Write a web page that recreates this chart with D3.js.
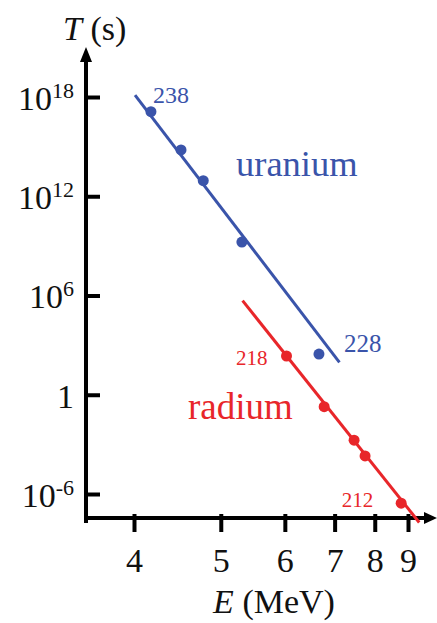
<!DOCTYPE html>
<html>
<head>
<meta charset="utf-8">
<script src="https://cdn.jsdelivr.net/npm/d3@7"></script>
<style>
  body { margin: 0; background: #fff; }
</style>
</head>
<body>
<script>
// Geiger-Nuttall style plot: log T against 1/sqrt(E)
const xTicks = [4, 5, 6, 7, 8, 9];
const yTicks = [1e18, 1e12, 1e6, 1, 1e-6];

// uranium series (blue)
const uraniumE = [4.17, 4.50, 4.77, 5.30, 6.66];
const uraniumT = [1.3e17, 6.3e14, 8.7e12, 1.7e9, 290];
const uraniumFitE = [4.01, 7.11];
const uraniumFitT = [1.3e18, 91];

// radium series (red)
const radiumE = [6.03, 6.77, 7.46, 7.74, 8.78];
const radiumT = [220, 0.19, 1.8e-3, 2.0e-4, 2.8e-7];
const radiumFitE = [5.31, 9.38];
const radiumFitT = [4.9e5, 1.9e-8];

const colors = {
    blue: "#3a54aa",
    red: "#e8262a",
    axis: "#000"
};

const serif = "Liberation Serif";
const width = 437, height = 623;

const svg = d3.select("body").append("svg")
    .attr("width", width)
    .attr("height", height);

// x is linear in 1/sqrt(E)
const x = d3.scalePow().exponent(-0.5)
    .domain([4, 9])
    .range([134, 408]);

const y = d3.scaleLog()
    .domain([1e-6, 1e18])
    .range([494, 97]);

const axisX0 = 86, axisY0 = 518;

// axis lines with arrows
svg.append("line")
    .attr("x1", axisX0).attr("y1", axisY0 + 5)
    .attr("x2", axisX0).attr("y2", 58)
    .attr("stroke", colors.axis)
    .attr("stroke-width", 4);
svg.append("polygon")
    .attr("points", `${axisX0},47 ${axisX0 - 6},62 ${axisX0 + 6},62`)
    .attr("fill", colors.axis);

svg.append("line")
    .attr("x1", axisX0 - 2).attr("y1", axisY0)
    .attr("x2", 428).attr("y2", axisY0)
    .attr("stroke", colors.axis)
    .attr("stroke-width", 4);
svg.append("polygon")
    .attr("points", `437,${axisY0} 424,${axisY0 - 6} 424,${axisY0 + 6}`)
    .attr("fill", colors.axis);

// x axis ticks
const gx = svg.append("g")
    .attr("transform", `translate(0,${axisY0 - 4})`)
    .call(d3.axisBottom(x).tickValues(xTicks).tickSize(18).tickFormat(d3.format("d")));
gx.select(".domain").remove();
gx.selectAll(".tick line").attr("stroke", colors.axis).attr("stroke-width", 4);
gx.selectAll(".tick text")
    .attr("y", 58).attr("dy", 0)
    .attr("font-size", 34)
    .attr("fill", "#111");

// y axis ticks (pointing right, labels left)
const gy = svg.append("g")
    .attr("transform", `translate(${axisX0 - 2},0)`)
    .call(d3.axisLeft(y).tickValues(yTicks).tickSize(-16).tickPadding(10));
gy.select(".domain").remove();
gy.selectAll(".tick line").attr("stroke", colors.axis).attr("stroke-width", 4);
gy.selectAll(".tick text").each(function(d) {
    const t = d3.select(this)
        .text(null)
        .attr("x", -10)
        .attr("dy", "0.36em")
        .attr("font-size", 34)
        .attr("fill", "#111");
    if (d === 1) {
        t.text("1");
    } else {
        t.append("tspan").text("10");
        t.append("tspan")
            .attr("dy", -12)
            .attr("font-size", 22)
            .text(String(Math.round(Math.log10(d))));
    }
});

// axis titles
const tTitle = svg.append("text")
    .attr("x", 63).attr("y", 40)
    .attr("font-size", 34)
    .attr("fill", "#111");
tTitle.append("tspan").attr("font-style", "italic").text("T");
tTitle.append("tspan").text(" (s)");

const eTitle = svg.append("text")
    .attr("x", 274).attr("y", 613)
    .attr("text-anchor", "middle")
    .attr("font-size", 34)
    .attr("fill", "#111");
eTitle.append("tspan").attr("font-style", "italic").text("E");
eTitle.append("tspan").text(" (MeV)");

// fit lines
const line = d3.line().x(d => x(d[0])).y(d => y(d[1]));

svg.append("path")
    .datum(d3.zip(uraniumFitE, uraniumFitT))
    .attr("d", line)
    .attr("fill", "none")
    .attr("stroke", colors.blue)
    .attr("stroke-width", 3);

svg.append("path")
    .datum(d3.zip(radiumFitE, radiumFitT))
    .attr("d", line)
    .attr("fill", "none")
    .attr("stroke", colors.red)
    .attr("stroke-width", 3);

// points
svg.selectAll(".upt")
    .data(d3.zip(uraniumE, uraniumT))
    .join("circle")
    .attr("cx", d => x(d[0]))
    .attr("cy", d => y(d[1]))
    .attr("r", 5.5)
    .attr("fill", colors.blue);

svg.selectAll(".rpt")
    .data(d3.zip(radiumE, radiumT))
    .join("circle")
    .attr("cx", d => x(d[0]))
    .attr("cy", d => y(d[1]))
    .attr("r", 5.5)
    .attr("fill", colors.red);

// isotope labels
function isoLabel(e, t, txt, dx, dy, anchor, color, size) {
    svg.append("text")
        .attr("x", x(e) + dx)
        .attr("y", y(t) + dy)
        .attr("text-anchor", anchor)
        .attr("fill", color)
        .attr("font-size", size)
        .text(txt);
}
isoLabel(uraniumE[0], uraniumT[0], "238", 2, -9, "start", colors.blue, 24);
isoLabel(uraniumE[4], uraniumT[4], "228", 25, -2, "start", colors.blue, 25);
isoLabel(radiumE[0], radiumT[0], "218", -19, 9, "end", colors.red, 21);
isoLabel(radiumE[4], radiumT[4], "212", -28, 4, "end", colors.red, 21);

// series names
svg.append("text")
    .attr("x", 236).attr("y", 176)
    .attr("fill", colors.blue)
    .attr("font-size", 36.5)
    .text("uranium");

svg.append("text")
    .attr("x", 188).attr("y", 419)
    .attr("fill", colors.red)
    .attr("font-size", 37)
    .text("radium");

// serif face set on every text element directly
svg.selectAll("text").attr("font-family", serif);
svg.selectAll("tspan").attr("font-family", serif);
</script>
</body>
</html>
